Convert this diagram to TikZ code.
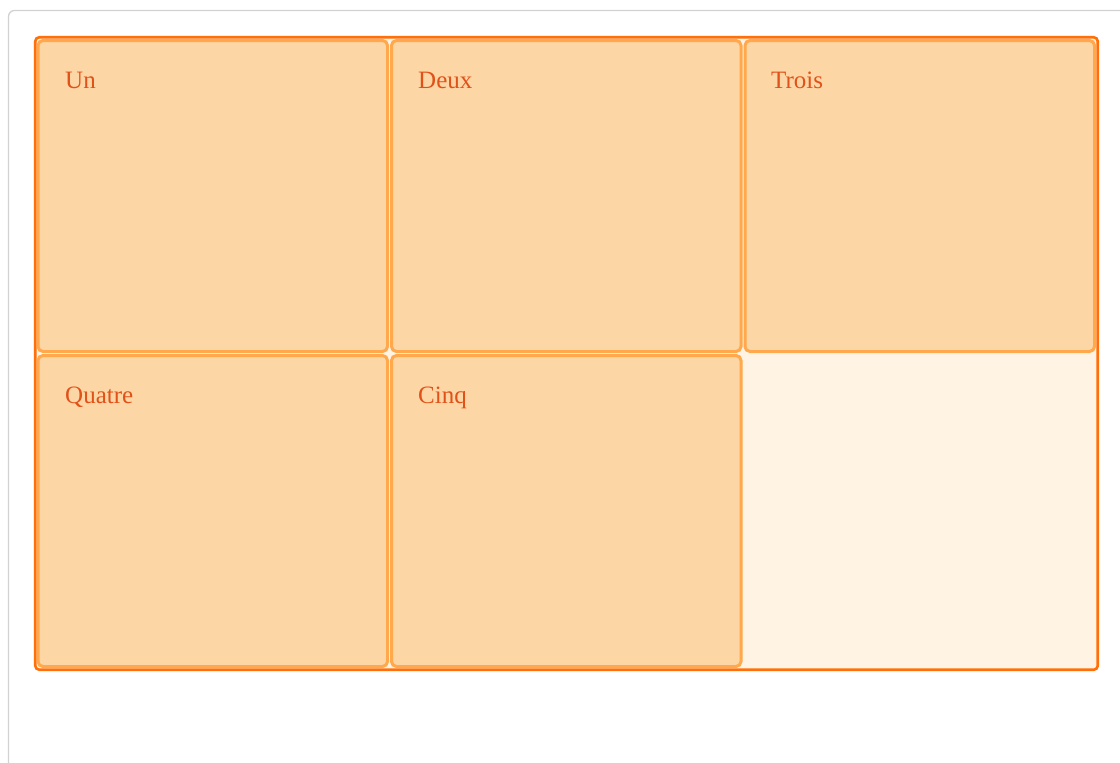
\documentclass[tikz,border=0pt]{standalone}
\usepackage{fontspec}
\setmainfont{Liberation Serif}
\definecolor{pageframe}{HTML}{D2D2D2}
\definecolor{gridborder}{HTML}{FF6F0A}
\definecolor{gridfill}{HTML}{FFF3E4}
\definecolor{cellborder}{HTML}{FFA84C}
\definecolor{cellfill}{HTML}{FDD6A5}
\definecolor{celltext}{HTML}{E0521A}
\tikzset{
  cellbox/.style={draw=cellborder, fill=cellfill, line width=3pt, rounded corners=5pt,
    rectangle, anchor=north west, minimum width=349.5pt, minimum height=311pt,
    inner sep=0pt, outer sep=0pt},
  celllabel/.style={anchor=base west, inner sep=0pt, text=celltext, font=\fontsize{25pt}{30pt}\selectfont},
}
\begin{document}
\begin{tikzpicture}[x=1pt,y=-1pt]
\useasboundingbox (0,0) rectangle (1120,763);
\fill[white] (0,0) rectangle (1120,763);
\begin{scope}
\clip (0,0) rectangle (1120,763);
\draw[pageframe, line width=1.3pt, rounded corners=6pt] (8.5,10.5) rectangle (1140,790);
\end{scope}
% grid container
\draw[gridborder, fill=gridfill, line width=2.6pt, rounded corners=4pt] (35.25,37.25) rectangle (1097.75,669.75);
% cells
\node[cellbox] (c1) at (38,40.5) {};
\node[cellbox] (c2) at (391.5,40.5) {};
\node[cellbox] (c3) at (745,40.5) {};
\node[cellbox] (c4) at (38,355.5) {};
\node[cellbox] (c5) at (391.5,355.5) {};
% labels
\node[celllabel] (t1) at (65,88) {Un};
\node[celllabel] (t2) at (418,88) {Deux};
\node[celllabel] (t3) at (771,88) {Trois};
\node[celllabel] (t4) at (65,403) {Quatre};
\node[celllabel] (t5) at (418,403) {Cinq};
\end{tikzpicture}
\end{document}
